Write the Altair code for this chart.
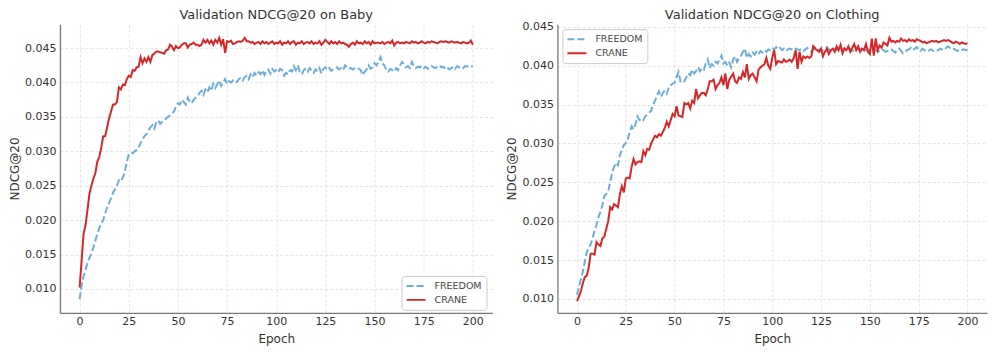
import altair as alt
import pandas as pd

epochs = list(range(201))

series_names = ["FREEDOM", "CRANE"]
series_colors = ["#6baed6", "#d62728"]

x_ticks = [0, 25, 50, 75, 100, 125, 150, 175, 200]
baby_y_ticks = [0.010, 0.015, 0.020, 0.025, 0.030, 0.035, 0.040, 0.045]
clothing_y_ticks = [0.010, 0.015, 0.020, 0.025, 0.030, 0.035, 0.040, 0.045]

baby_crane = [
    0.0102, 0.0140, 0.0180, 0.0192, 0.0215, 0.0238, 0.0250, 0.0260, 0.0268, 0.0285,
    0.0292, 0.0305, 0.0322, 0.0322, 0.0335, 0.0348, 0.0358, 0.0368, 0.0368, 0.0372,
    0.0393, 0.0390, 0.0397, 0.0396, 0.0405, 0.0410, 0.0408, 0.0418, 0.0417, 0.0422,
    0.0423, 0.0437, 0.0428, 0.0435, 0.0430, 0.0437, 0.0430, 0.0440, 0.0442, 0.0445,
    0.0445, 0.0444, 0.0443, 0.0442, 0.0447, 0.0448, 0.0455, 0.0452, 0.0447, 0.0453,
    0.0450, 0.0451, 0.0455, 0.0457, 0.0457, 0.0451, 0.0455, 0.0456, 0.0458, 0.0455,
    0.0455, 0.0453, 0.0455, 0.0462, 0.0458, 0.0462, 0.0457, 0.0461, 0.0455, 0.0462,
    0.0458, 0.0465, 0.0455, 0.0463, 0.0443, 0.0460, 0.0459, 0.0461, 0.0456, 0.0457,
    0.0459, 0.0460, 0.0459, 0.0461, 0.0465, 0.0460, 0.0460, 0.0458, 0.0459, 0.0456,
    0.0458, 0.0459, 0.0456, 0.0460, 0.0457, 0.0459, 0.0456, 0.0458, 0.0460, 0.0456,
    0.0458, 0.0457, 0.0460, 0.0455, 0.0458, 0.0457, 0.0460, 0.0456, 0.0459, 0.0460,
    0.0455, 0.0458, 0.0457, 0.0460, 0.0456, 0.0458, 0.0459, 0.0457, 0.0460, 0.0456,
    0.0458, 0.0457, 0.0460, 0.0455, 0.0458, 0.0462, 0.0459, 0.0456, 0.0460, 0.0457,
    0.0459, 0.0456, 0.0460, 0.0457, 0.0458, 0.0456, 0.0455, 0.0452, 0.0456, 0.0458,
    0.0455, 0.0460, 0.0457, 0.0458, 0.0456, 0.0460, 0.0457, 0.0459, 0.0455, 0.0460,
    0.0457, 0.0458, 0.0458, 0.0457, 0.0459, 0.0456, 0.0458, 0.0459, 0.0457, 0.0461,
    0.0454, 0.0458, 0.0459, 0.0457, 0.0458, 0.0457, 0.0459, 0.0458, 0.0457, 0.0460,
    0.0458, 0.0459, 0.0457, 0.0458, 0.0460, 0.0458, 0.0457, 0.0459, 0.0458, 0.0460,
    0.0459, 0.0458, 0.0457, 0.0459, 0.0460, 0.0459, 0.0460, 0.0459, 0.0458, 0.0460,
    0.0459, 0.0458, 0.0459, 0.0458, 0.0457, 0.0459, 0.0458, 0.0457, 0.0458, 0.0461,
    0.0455,
]

baby_freedom = [
    0.0085, 0.0105, 0.0118, 0.0128, 0.0138, 0.0145, 0.0152, 0.0160, 0.0170, 0.0180,
    0.0188, 0.0195, 0.0200, 0.0210, 0.0218, 0.0225, 0.0232, 0.0240, 0.0245, 0.0250,
    0.0258, 0.0256, 0.0262, 0.0270, 0.0285, 0.0295, 0.0298, 0.0297, 0.0300, 0.0302,
    0.0305, 0.0312, 0.0318, 0.0322, 0.0325, 0.0330, 0.0335, 0.0338, 0.0333, 0.0342,
    0.0345, 0.0340, 0.0343, 0.0345, 0.0348, 0.0350, 0.0352, 0.0355, 0.0358, 0.0365,
    0.0370, 0.0368, 0.0375, 0.0372, 0.0368, 0.0378, 0.0372, 0.0370, 0.0375, 0.0378,
    0.0380, 0.0385, 0.0388, 0.0382, 0.0390, 0.0386, 0.0393, 0.0388, 0.0398, 0.0392,
    0.0397, 0.0403, 0.0395, 0.0400, 0.0405, 0.0398, 0.0402, 0.0400, 0.0403, 0.0400,
    0.0401, 0.0405, 0.0407, 0.0403, 0.0408, 0.0410, 0.0405, 0.0412, 0.0408, 0.0414,
    0.0410, 0.0415, 0.0412, 0.0418, 0.0411, 0.0417, 0.0419, 0.0413, 0.0420, 0.0416,
    0.0418, 0.0415, 0.0420, 0.0418, 0.0410, 0.0414, 0.0412, 0.0418, 0.0416, 0.0424,
    0.0418, 0.0425, 0.0415, 0.0412, 0.0418, 0.0420, 0.0416, 0.0421, 0.0417, 0.0414,
    0.0419, 0.0416, 0.0421, 0.0413, 0.0420, 0.0422, 0.0418, 0.0421, 0.0417, 0.0419,
    0.0420, 0.0422, 0.0419, 0.0421, 0.0418, 0.0425, 0.0422, 0.0420, 0.0421, 0.0419,
    0.0421, 0.0422, 0.0420, 0.0418, 0.0411, 0.0416, 0.0419, 0.0425, 0.0420, 0.0422,
    0.0428, 0.0425, 0.0430, 0.0437, 0.0428, 0.0425, 0.0418, 0.0416, 0.0420, 0.0418,
    0.0416, 0.0421, 0.0418, 0.0425, 0.0430, 0.0427, 0.0422, 0.0424, 0.0421, 0.0430,
    0.0424, 0.0421, 0.0423, 0.0422, 0.0424, 0.0421, 0.0423, 0.0420, 0.0422, 0.0424,
    0.0422, 0.0421, 0.0423, 0.0425, 0.0422, 0.0423, 0.0420, 0.0422, 0.0419, 0.0421,
    0.0423, 0.0420, 0.0424, 0.0422, 0.0423, 0.0421, 0.0424, 0.0423, 0.0425, 0.0424,
    0.0423,
]

clothing_freedom = [
    0.0105, 0.0115, 0.0125, 0.0135, 0.0148, 0.0160, 0.0165, 0.0170, 0.0178, 0.0188,
    0.0195, 0.0205, 0.0212, 0.0220, 0.0232, 0.0235, 0.0238, 0.0250, 0.0262, 0.0270,
    0.0275, 0.0272, 0.0285, 0.0292, 0.0298, 0.0300, 0.0305, 0.0315, 0.0322, 0.0318,
    0.0325, 0.0335, 0.0330, 0.0332, 0.0330, 0.0335, 0.0337, 0.0340, 0.0342, 0.0350,
    0.0355, 0.0362, 0.0367, 0.0360, 0.0365, 0.0368, 0.0364, 0.0372, 0.0375, 0.0377,
    0.0378, 0.0385, 0.0392, 0.0380, 0.0382, 0.0380, 0.0385, 0.0390, 0.0388, 0.0395,
    0.0390, 0.0393, 0.0398, 0.0393, 0.0397, 0.0395, 0.0403, 0.0408, 0.0397, 0.0402,
    0.0400, 0.0405, 0.0403, 0.0408, 0.0413, 0.0403, 0.0405, 0.0400, 0.0404, 0.0398,
    0.0408, 0.0412, 0.0405, 0.0410, 0.0413, 0.0418, 0.0422, 0.0410, 0.0415, 0.0412,
    0.0417, 0.0414, 0.0418, 0.0415, 0.0419, 0.0417, 0.0420, 0.0418, 0.0421, 0.0420,
    0.0423, 0.0421, 0.0424, 0.0421, 0.0423, 0.0420, 0.0422, 0.0419, 0.0421, 0.0422,
    0.0421, 0.0420, 0.0422, 0.0421, 0.0420, 0.0422, 0.0419, 0.0421, 0.0423, 0.0420,
    0.0418, 0.0421, 0.0423, 0.0420, 0.0421, 0.0419, 0.0420, 0.0422, 0.0424, 0.0421,
    0.0420, 0.0423, 0.0421, 0.0420, 0.0422, 0.0419, 0.0421, 0.0423, 0.0420, 0.0422,
    0.0421, 0.0419, 0.0420, 0.0422, 0.0421, 0.0420, 0.0422, 0.0419, 0.0420, 0.0421,
    0.0420, 0.0421, 0.0419, 0.0420, 0.0418, 0.0419, 0.0421, 0.0420, 0.0418, 0.0419,
    0.0420, 0.0421, 0.0419, 0.0417, 0.0420, 0.0422, 0.0419, 0.0416, 0.0418, 0.0420,
    0.0421, 0.0423, 0.0420, 0.0422, 0.0424, 0.0421, 0.0419, 0.0422, 0.0420, 0.0418,
    0.0419, 0.0421, 0.0420, 0.0418, 0.0419, 0.0420, 0.0422, 0.0421, 0.0420, 0.0423,
    0.0425, 0.0423, 0.0421, 0.0422, 0.0420, 0.0419, 0.0421, 0.0420, 0.0421, 0.0420,
    0.0421,
]

clothing_crane = [
    0.0097, 0.0103, 0.0110, 0.0120, 0.0128, 0.0130, 0.0140, 0.0158, 0.0158, 0.0157,
    0.0173, 0.0170, 0.0168, 0.0178, 0.0180, 0.0190, 0.0200, 0.0218, 0.0215, 0.0222,
    0.0220, 0.0218, 0.0235, 0.0245, 0.0237, 0.0255, 0.0256, 0.0255, 0.0270, 0.0280,
    0.0273, 0.0276, 0.0277, 0.0276, 0.0290, 0.0285, 0.0293, 0.0292, 0.0300, 0.0305,
    0.0310, 0.0308, 0.0312, 0.0310, 0.0315, 0.0320, 0.0328, 0.0322, 0.0330, 0.0338,
    0.0335, 0.0348, 0.0336, 0.0335, 0.0334, 0.0352, 0.0350, 0.0352, 0.0345, 0.0355,
    0.0352, 0.0370, 0.0358, 0.0362, 0.0365, 0.0365, 0.0362, 0.0370, 0.0380, 0.0380,
    0.0382, 0.0370, 0.0375, 0.0378, 0.0385, 0.0375, 0.0390, 0.0370, 0.0382, 0.0386,
    0.0390, 0.0380, 0.0378, 0.0385, 0.0383, 0.0392, 0.0385, 0.0402, 0.0383, 0.0388,
    0.0390, 0.0385, 0.0380, 0.0395, 0.0398, 0.0400, 0.0402, 0.0410, 0.0400, 0.0396,
    0.0410, 0.0420, 0.0402, 0.0406, 0.0405, 0.0404, 0.0408, 0.0405, 0.0406, 0.0408,
    0.0405, 0.0410, 0.0420, 0.0396, 0.0418, 0.0405, 0.0412, 0.0410, 0.0412, 0.0410,
    0.0412, 0.0425, 0.0422, 0.0420, 0.0418, 0.0422, 0.0412, 0.0418, 0.0422, 0.0415,
    0.0420, 0.0422, 0.0418, 0.0425, 0.0420, 0.0427, 0.0416, 0.0422, 0.0420, 0.0425,
    0.0418, 0.0423, 0.0428, 0.0420, 0.0425, 0.0418, 0.0422, 0.0420, 0.0428, 0.0418,
    0.0415, 0.0435, 0.0413, 0.0435, 0.0420, 0.0426, 0.0423, 0.0430, 0.0428, 0.0426,
    0.0436, 0.0431, 0.0432, 0.0430, 0.0432, 0.0431, 0.0435, 0.0432, 0.0433, 0.0431,
    0.0434, 0.0432, 0.0433, 0.0431, 0.0434, 0.0433, 0.0432, 0.0430, 0.0431, 0.0429,
    0.0430, 0.0431, 0.0432, 0.0431, 0.0432, 0.0430, 0.0431, 0.0432, 0.0433, 0.0432,
    0.0433, 0.0432, 0.0430, 0.0429, 0.0431, 0.0430, 0.0428, 0.0430, 0.0429, 0.0428,
    0.0429,
]


def long_frame(freedom, crane):
    rows = []
    for name, vals in zip(series_names, [freedom, crane]):
        for e, v in zip(epochs, vals):
            rows.append({"epoch": e, "ndcg": v, "series": name})
    return pd.DataFrame(rows)


FONT = "DejaVu Sans"
TEXT = "#333333"


def panel(df, title, y_domain, y_ticks, lx, ly, w, title_offset):
    leg = alt.Legend(
        title=None,
        orient="none",
        legendX=lx,
        legendY=ly,
        symbolType="stroke",
        symbolStrokeWidth=2,
        symbolSize=361,
        labelFontSize=9.5,
        labelFont=FONT,
        labelColor="#444444",
        labelOffset=8,
        fillColor="white",
        strokeColor="#cccccc",
        cornerRadius=3,
        padding=4,
        clipHeight=12,
        rowPadding=2,
    )
    return (
        alt.Chart(df, title=alt.Title(title, fontSize=13, font=FONT, color=TEXT,
                                      fontWeight="normal", offset=title_offset))
        .mark_line(strokeWidth=2, clip=True)
        .encode(
            x=alt.X("epoch:Q",
                    scale=alt.Scale(domain=[-10, 210], nice=False, zero=False),
                    axis=alt.Axis(values=x_ticks, title="Epoch", format="d",
                                  labelPadding=3, titlePadding=7)),
            y=alt.Y("ndcg:Q",
                    scale=alt.Scale(domain=y_domain, nice=False, zero=False),
                    axis=alt.Axis(values=y_ticks, title="NDCG@20", format=".3f",
                                  labelPadding=4, titlePadding=3)),
            color=alt.Color("series:N",
                            scale=alt.Scale(domain=series_names, range=series_colors),
                            legend=leg),
            strokeDash=alt.StrokeDash("series:N",
                                      scale=alt.Scale(domain=series_names, range=[[7, 3], [1, 0]]),
                                      legend=leg),
            order=alt.Order("epoch:Q"),
        )
        .properties(width=w, height=289)
    )


left = panel(long_frame(baby_freedom, baby_crane), "Validation NDCG@20 on Baby",
             [0.00651, 0.04849], baby_y_ticks, 342, 252, 433, 2)
right = panel(long_frame(clothing_freedom, clothing_crane), "Validation NDCG@20 on Clothing",
              [0.0082, 0.04535], clothing_y_ticks, 5, 5, 430, -1)

chart = (
    alt.hconcat(left, right, spacing=12)
    .resolve_legend(color="independent", strokeDash="independent")
    .resolve_scale(color="independent", strokeDash="independent")
    .properties(padding={"left": 0, "top": 0, "right": 0, "bottom": 0})
    .configure_view(stroke="transparent")
    .configure_axis(
        labelFont=FONT, labelFontSize=11, labelColor=TEXT,
        titleFont=FONT, titleFontSize=12, titleColor=TEXT, titleFontWeight="normal",
        domainColor="#777777", domainWidth=1.3,
        ticks=False,
        gridColor="#dddddd", gridDash=[3, 2], gridWidth=0.8,
    )
)

chart.save("out.html", embed_options={"renderer": "svg", "actions": False})
